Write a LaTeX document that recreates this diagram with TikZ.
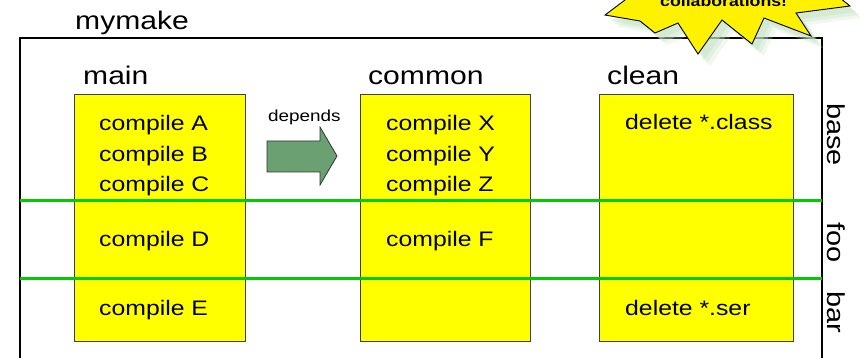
\documentclass[tikz,border=0pt]{standalone}
\usepackage{fontspec}
\setmainfont[FakeStretch=1.18]{Liberation Sans}
\usetikzlibrary{positioning}

\definecolor{boxyellow}{RGB}{255,255,0}
\definecolor{lanegreen}{RGB}{0,204,0}
\definecolor{arrowgreen}{RGB}{107,160,114}
\definecolor{shadowgreen}{RGB}{196,226,196}

\begin{document}
\begin{tikzpicture}[x=1pt,y=-1pt,
    colbox/.style={draw=black!75,fill=boxyellow,line width=0.9pt,anchor=north west,inner sep=0pt},
    item/.style={anchor=base west,inner sep=0pt,font=\fontsize{21}{25}\selectfont},
    heading/.style={anchor=base west,inner sep=0pt,font=\fontsize{25.5}{30}\selectfont},
    lanelabel/.style={anchor=base west,inner sep=0pt,rotate=-90,font=\fontsize{24.5}{29}\selectfont},
    lane/.style={draw=lanegreen,line width=3pt}]

  \useasboundingbox (0,0) rectangle (860,358);
  \clip (0,0) rectangle (860,358);

  % outer frame
  \node[heading] (mymake) at (75,30) {mymake};
  \draw[line width=1.2pt] (20,358) -- (20,38) -- (822,38) -- (822,358);

  % columns
  \node[colbox,minimum width=171pt,minimum height=247pt] (mainbox) at (74,94) {};
  \node[colbox,minimum width=170pt,minimum height=247pt] (commonbox) at (360,94) {};
  \node[colbox,minimum width=194pt,minimum height=247pt] (cleanbox) at (599,94) {};
  \node[heading] (main) at (83,85) {main};
  \node[heading] (common) at (368,85) {common};
  \node[heading] (clean) at (607,85) {clean};

  % lanes
  \draw[lane] (20,201) -- (822,201);
  \draw[lane] (20,279) -- (822,279);
  \node[lanelabel] (base) at (827,103) {base};
  \node[lanelabel] (foo) at (827,222) {foo};
  \node[lanelabel] (bar) at (827,291) {bar};

  % targets
  \node[item] (ca) at (99,131) {compile A};
  \node[item] (cb) at (99,162) {compile B};
  \node[item] (cc) at (99,192) {compile C};
  \node[item] (cd) at (99,247) {compile D};
  \node[item] (ce) at (99,316) {compile E};
  \node[item] (cx) at (386,131) {compile X};
  \node[item] (cy) at (386,162) {compile Y};
  \node[item] (cz) at (386,192) {compile Z};
  \node[item] (cf) at (386,247) {compile F};
  \node[item] (dclass) at (625,130) {delete *.class};
  \node[item] (dser) at (625,316) {delete *.ser};

  % depends arrow
  \draw[draw=black!80,fill=arrowgreen,line width=0.8pt]
    (267,141) -- (320,141) -- (320,127) -- (337,156) -- (320,185) -- (320,172) -- (267,172) -- cycle;
  \node[anchor=base west,inner sep=0pt,font=\fontsize{16}{19}\selectfont] (depends) at (268,122) {depends};

  % starburst
  \foreach \d/\o in {12/0.25,9/0.35,6/0.45}
    \fill[shadowgreen,opacity=\o,shift={(\d,\d)}]
      (605,15) -- (640,21) -- (655,33) -- (678,23) -- (698,54) -- (722,20) -- (752,44) -- (764,18)
      -- (811,36) -- (796,13) -- (850,6) -- (830,-10) -- (860,-40) -- (600,-40) -- (625,0) -- cycle;
  \draw[fill=yellow,line width=0.9pt]
    (605,15) -- (640,21) -- (655,33) -- (678,23) -- (698,54) -- (722,20) -- (752,44) -- (764,18)
    -- (811,36) -- (796,13) -- (850,6) -- (830,-10) -- (860,-40) -- (600,-40) -- (625,0) -- cycle;
  \node[anchor=base west,inner sep=0pt,font=\fontsize{15}{18}\selectfont\bfseries] (collab) at (660,7) {collaborations!};
\end{tikzpicture}
\end{document}
